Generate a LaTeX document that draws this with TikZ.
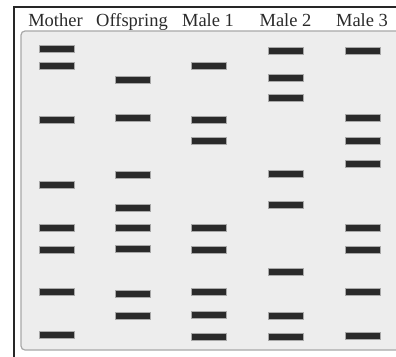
\documentclass[tikz,border=0pt]{standalone}
\usepackage{fontspec}
\setmainfont{Liberation Serif}
\usepackage{tikz}
\usetikzlibrary{positioning,calc}
\usepackage{xcolor}
\definecolor{gelInk}{HTML}{2A2A2A}
\definecolor{gelFill}{HTML}{EDEDED}
\definecolor{gelEdge}{HTML}{A8A8A8}
\definecolor{gelFrame}{HTML}{262626}
\tikzset{
  band/.style={rectangle, fill=gelInk, draw=gelEdge, line width=0.4pt, minimum width=35pt, minimum height=7pt, inner sep=0pt},
  lanehead/.style={anchor=base, inner sep=0pt, font=\fontsize{18.5}{19}\selectfont, text=gelInk},
}

\begin{document}
\begin{tikzpicture}[x=1pt,y=-1pt]
  \useasboundingbox (0,0) rectangle (396,356);
  % frame and gel
  \draw[gelFrame, line width=1.6pt] (14,360) -- (14,7) -- (400,7);
  \draw[gelEdge, fill=gelFill, line width=1.2pt, rounded corners=4pt] (21,31) rectangle (410,350);
  % lane headings
  \foreach \x/\name/\txt in {55.5/mother/Mother, 132/offspring/Offspring, 208/male1/Male 1, 285.5/male2/Male 2, 362/male3/Male 3} {
    \node[lanehead] (\name) at (\x,26) {\txt};
  }
  % bands
  \foreach \y [count=\k] in {49, 66, 119.5, 184.5, 227.5, 249.5, 291.5, 334.5}
    \node[band] (mother-\k) at (56.5,\y) {};
  \foreach \y [count=\k] in {79.5, 118, 175, 207.5, 227.5, 249, 294, 315.5}
    \node[band] (offspring-\k) at (132.5,\y) {};
  \foreach \y [count=\k] in {66, 119.5, 140.5, 227.5, 249.5, 292, 315, 337}
    \node[band] (male1-\k) at (208.5,\y) {};
  \foreach \y [count=\k] in {51, 78, 98, 173.5, 205, 272, 315.5, 337}
    \node[band] (male2-\k) at (286,\y) {};
  \foreach \y [count=\k] in {51, 117.5, 140.5, 163.5, 227.5, 249.5, 292, 335.5}
    \node[band] (male3-\k) at (362.5,\y) {};
\end{tikzpicture}
\end{document}
